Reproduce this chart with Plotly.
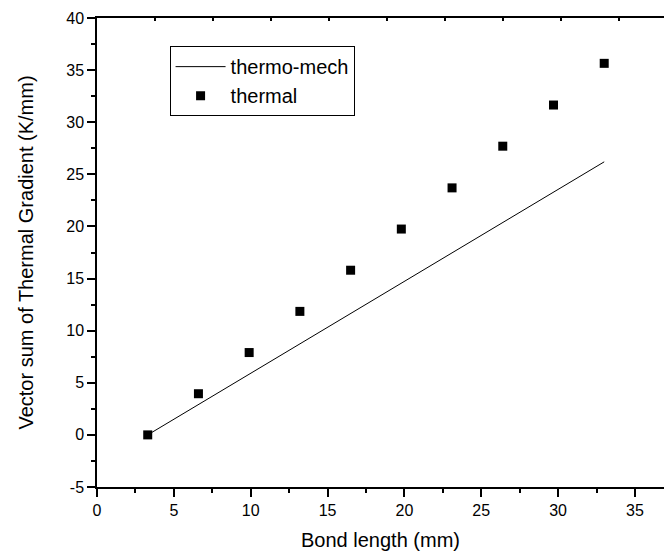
import plotly.graph_objects as go

# Bond length (mm) for both series
bond_length = [3.3, 6.6, 9.9, 13.2, 16.5, 19.8, 23.1, 26.4, 29.7, 33.0]

# Vector sum of thermal gradient (K/mm)
thermo_mech = [0.0, 2.91, 5.82, 8.73, 11.64, 14.55, 17.46, 20.37, 23.28, 26.2]
thermal = [0.0, 3.95, 7.9, 11.85, 15.8, 19.75, 23.7, 27.7, 31.65, 35.65]

y_ticks = [-5, 0, 5, 10, 15, 20, 25, 30, 35, 40]
y_labels = ["-5", "0", "5", "10", "15", "20", "25", "30", "35", "40"]
x_ticks = [0, 5, 10, 15, 20, 25, 30, 35]

font_name = "Liberation Sans, Arial, sans-serif"

fig = go.Figure()

fig.add_trace(go.Scatter(
    x=bond_length, y=thermo_mech, mode="lines", name="thermo-mech",
    line=dict(color="black", width=1),
))
fig.add_trace(go.Scatter(
    x=bond_length, y=thermal, mode="markers", name="thermal",
    marker=dict(symbol="square", size=9, color="black"),
))
# empty trace so the top axis (with its own small ticks) gets drawn
fig.add_trace(go.Scatter(x=[], y=[], xaxis="x2", showlegend=False,
                         hoverinfo="skip"))

fig.update_layout(
    width=664, height=556,
    margin=dict(l=97, r=0, t=18, b=69),
    paper_bgcolor="white", plot_bgcolor="white",
    font=dict(family=font_name, size=16, color="black"),
    showlegend=True,
    legend=dict(
        x=0.128, y=0.94, xanchor="left", yanchor="top",
        bordercolor="black", borderwidth=1, bgcolor="white",
        font=dict(size=20), itemwidth=50, tracegroupgap=0,
    ),
    xaxis=dict(
        range=[0, 36.89], tickvals=x_ticks, ticks="outside", ticklen=8,
        tickwidth=1.5, tickcolor="black", showline=True, linecolor="black",
        linewidth=1.5, showgrid=False, zeroline=False,
        automargin=False, tickfont=dict(size=16),
        minor=dict(dtick=2.5, ticks="outside", ticklen=4, tickcolor="black",
                   tickwidth=1.5),
        title=dict(text="Bond length (mm)", font=dict(size=20), standoff=15),
    ),
    xaxis2=dict(
        overlaying="x", side="top", range=[0, 9.776], dtick=1,
        ticks="inside", ticklen=3, tickwidth=1.5, tickcolor="black",
        showticklabels=False, showline=True, linecolor="black",
        linewidth=1.5, showgrid=False, zeroline=False, automargin=False,
    ),
    yaxis=dict(
        range=[-5, 40], tickvals=y_ticks, ticktext=y_labels, ticks="outside",
        ticklen=8, tickwidth=1.5, tickcolor="black", showline=True,
        linecolor="black", linewidth=1.5, showgrid=False, zeroline=False,
        automargin=False, tickfont=dict(size=16),
        minor=dict(dtick=2.5, ticks="outside", ticklen=4, tickcolor="black",
                   tickwidth=1.5),
        title=dict(text="Vector sum of Thermal Gradient (K/mm)",
                   font=dict(size=20), standoff=27),
    ),
)

# drop the default page margin so the figure sits at the window corner
fig.write_html("out.html", config={"displayModeBar": False},
               post_script="document.body.style.margin='0';")
